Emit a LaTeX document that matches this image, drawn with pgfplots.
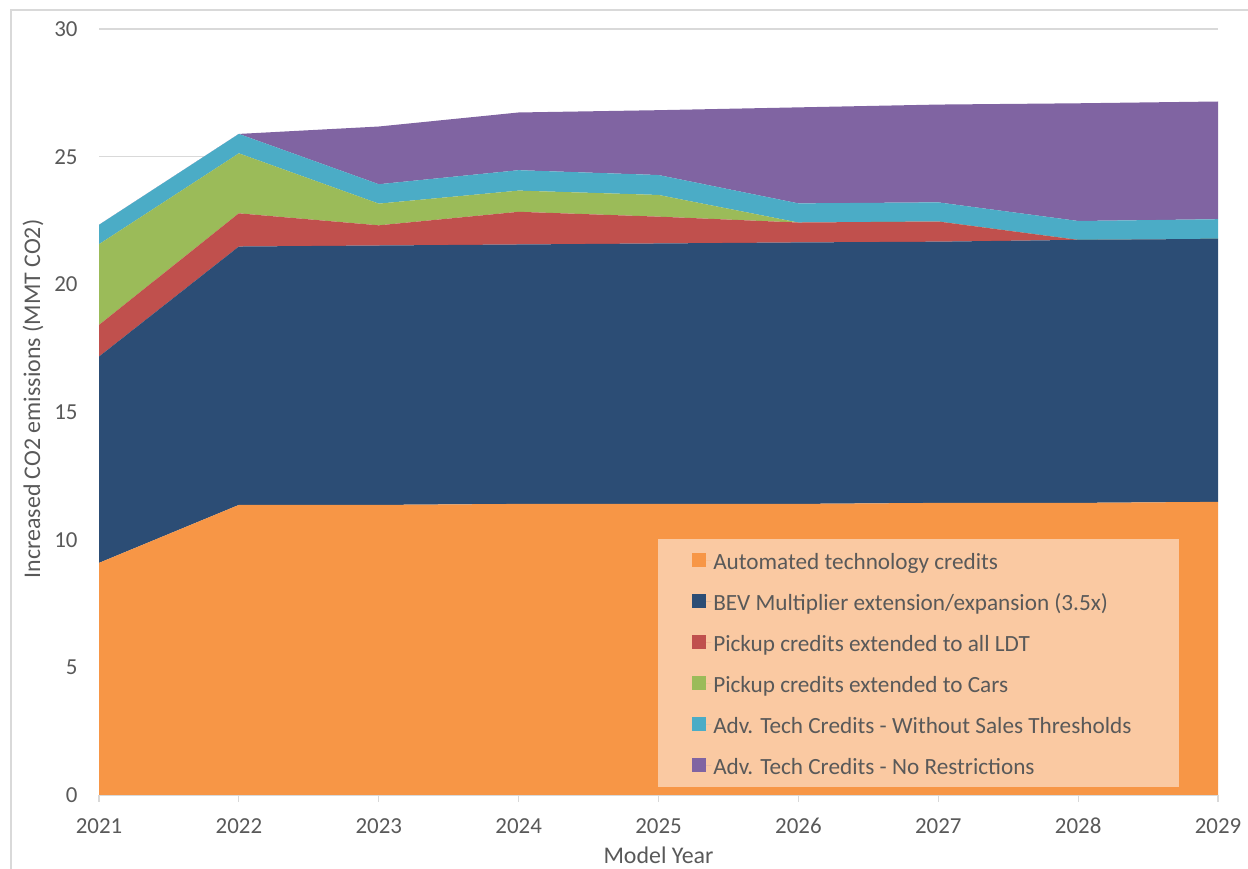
\documentclass[border=0pt]{standalone}
\usepackage{pgfplots}
\pgfplotsset{compat=1.18}
\usepackage{fontspec}
\setmainfont{Carlito}
\definecolor{aorange}{HTML}{F79646}
\definecolor{ablue}{HTML}{2C4D75}
\definecolor{ared}{HTML}{C0504D}
\definecolor{agreen}{HTML}{9BBB59}
\definecolor{acyan}{HTML}{4BACC6}
\definecolor{apurple}{HTML}{8064A2}
\definecolor{legfill}{HTML}{FAC9A2}
\definecolor{gridgray}{HTML}{D9D9D9}
\definecolor{textgray}{HTML}{595959}
\begin{document}
\begin{tikzpicture}[x=1bp,y=1bp]
\useasboundingbox (0,0) rectangle (1248,869);
\draw[gridgray, line width=1.2bp] (11,0) -- (11,859) -- (1248,859);
\begin{axis}[
  at={(99bp,74bp)}, anchor=south west,
  scale only axis, width=1119bp, height=766bp,
  xmin=2021, xmax=2029, ymin=0, ymax=30,
  xtick={2021,2022,2023,2024,2025,2026,2027,2028,2029},
  ytick={0,5,10,15,20,25,30},
  /pgf/number format/1000 sep={},
  /pgf/number format/assume math mode=true,
  axis x line*=bottom, axis y line*=left,
  x axis line style={gridgray, line width=1.2bp},
  y axis line style={draw=none},
  ymajorgrids, grid style={gridgray, line width=1.2bp},
  tick align=outside, major tick length=7bp,
  xtick style={gridgray, line width=1.2bp},
  ytick style={draw=none},
  tick label style={font=\fontsize{23}{28}\selectfont, text=textgray},
  xticklabel style={anchor=base, yshift=-32bp},
  yticklabel style={anchor=east, xshift=-11bp},
  xlabel={Model Year},
  ylabel={Increased CO2 emissions (MMT CO2)},
  every axis x label/.style={at={(axis description cs:0.5,-0.090)}, anchor=base, font=\fontsize{24}{29}\selectfont, text=textgray},
  every axis y label/.style={at={(axis description cs:-0.059,0.517)}, rotate=90, anchor=center, font=\fontsize{24}{29}\selectfont, text=textgray},
  stack plots=y,
  legend style={at={(0.4996,0.0104)}, anchor=south west, fill=legfill, draw=none,
    inner xsep=34bp, inner ysep=9.5bp, row sep=17bp, column sep=0bp,
    font=\fontsize{23.3}{28}\selectfont, text=textgray,
    nodes={text height=19bp, text depth=1bp, inner sep=2bp}},
  legend cell align=left,
  legend image code/.code={\fill[#1] (0bp,-7bp) rectangle (14bp,7bp); \path (0bp,0bp) -- (19bp,0bp);},
]
\addplot[fill=aorange, draw=none] coordinates {(2021,9.09) (2022,11.36) (2023,11.36) (2024,11.40) (2025,11.40) (2026,11.40) (2027,11.44) (2028,11.44) (2029,11.48)} \closedcycle;
\addlegendentry{Automated technology credits}
\addplot[fill=ablue, draw=none] coordinates {(2021,8.08) (2022,10.12) (2023,10.16) (2024,10.16) (2025,10.20) (2026,10.24) (2027,10.23) (2028,10.30) (2029,10.30)} \closedcycle;
\addlegendentry{BEV Multiplier extension/expansion (3.5x)}
\addplot[fill=ared, draw=none] coordinates {(2021,1.24) (2022,1.30) (2023,0.79) (2024,1.28) (2025,1.05) (2026,0.78) (2027,0.79) (2028,0) (2029,0)} \closedcycle;
\addlegendentry{Pickup credits extended to all LDT}
\addplot[fill=agreen, draw=none] coordinates {(2021,3.16) (2022,2.35) (2023,0.85) (2024,0.83) (2025,0.85) (2026,0) (2027,0) (2028,0) (2029,0)} \closedcycle;
\addlegendentry{Pickup credits extended to Cars}
\addplot[fill=acyan, draw=none] coordinates {(2021,0.76) (2022,0.76) (2023,0.76) (2024,0.80) (2025,0.78) (2026,0.75) (2027,0.75) (2028,0.74) (2029,0.77)} \closedcycle;
\addlegendentry{Adv. Tech Credits - Without Sales Thresholds\rule{12bp}{0bp}}
\addplot[fill=apurple, draw=none] coordinates {(2021,0) (2022,0) (2023,2.26) (2024,2.26) (2025,2.54) (2026,3.76) (2027,3.83) (2028,4.61) (2029,4.61)} \closedcycle;
\addlegendentry{Adv. Tech Credits - No Restrictions}
\end{axis}
\end{tikzpicture}
\end{document}
